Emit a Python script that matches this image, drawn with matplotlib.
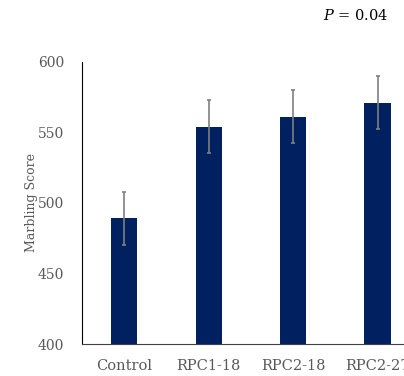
import matplotlib
matplotlib.use("Agg")
import matplotlib.pyplot as plt

# data
groups = ["Control", "RPC1-18", "RPC2-18", "RPC2-27"]
scores = [489, 554, 561, 571]
errors = [18.7, 18.7, 18.7, 18.9]

plt.rcParams['font.family'] = ['DejaVu Serif']
plt.rcParams['mathtext.fontset'] = 'dejavuserif'

fig = plt.figure(figsize=(4.04, 3.76), dpi=100)
ax = fig.add_axes([0.203, 0.085, 0.836, 0.751])

ax.bar(range(len(groups)), scores, width=0.31, color='#002060',
       yerr=errors, error_kw=dict(ecolor='#7f7f7f', elinewidth=1.2, capsize=1.5, capthick=1.2))

ax.set_ylim(400, 600)
ax.set_xlim(-0.5, 3.5)
ax.set_yticks([400, 450, 500, 550, 600])
ax.set_xticks(range(len(groups)))
ax.set_xticklabels(groups)
ax.tick_params(axis='both', length=0, labelsize=10, colors='#595959')
ax.tick_params(axis='y', pad=13)
ax.tick_params(axis='x', pad=11, labelsize=10.5)

for s in ['top', 'right']:
    ax.spines[s].set_visible(False)
ax.spines['left'].set_color('black')
ax.spines['bottom'].set_color('#404040')

ax.set_ylabel("Marbling Score", fontsize=9, color='#595959', labelpad=0)

fig.text(0.80, 0.96, "$\\mathit{P}$ = 0.04", fontsize=10.5, color='black', va='center')

fig.savefig("out.png", dpi=100)
